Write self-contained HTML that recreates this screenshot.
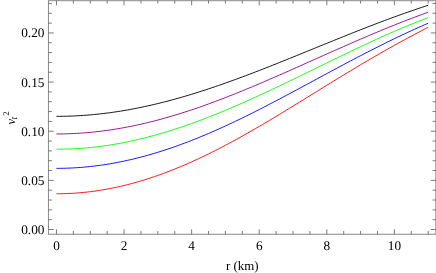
<!DOCTYPE html>
<html><head><meta charset="utf-8"><title>plot</title>
<style>html,body{margin:0;padding:0;background:#fff;}body{width:436px;height:273px;overflow:hidden;font-family:"Liberation Serif",serif;}svg{display:block;will-change:transform;}</style>
</head><body>
<svg width="436" height="273" viewBox="0 0 436 273">
<rect x="0" y="0" width="436" height="273" fill="#ffffff"/>
<rect x="48.44" y="0.7" width="387.36" height="233.56" fill="none" stroke="#888888" stroke-width="1"/>
<path d="M56.48,234.26v-5M56.48,0.7v4.6M73.38,234.26v-3.3M73.38,0.7v2.9M90.27,234.26v-3.3M90.27,0.7v2.9M107.16,234.26v-3.3M107.16,0.7v2.9M124.06,234.26v-5M124.06,0.7v4.6M140.95,234.26v-3.3M140.95,0.7v2.9M157.85,234.26v-3.3M157.85,0.7v2.9M174.75,234.26v-3.3M174.75,0.7v2.9M191.64,234.26v-5M191.64,0.7v4.6M208.53,234.26v-3.3M208.53,0.7v2.9M225.43,234.26v-3.3M225.43,0.7v2.9M242.32,234.26v-3.3M242.32,0.7v2.9M259.22,234.26v-5M259.22,0.7v4.6M276.12,234.26v-3.3M276.12,0.7v2.9M293.01,234.26v-3.3M293.01,0.7v2.9M309.90,234.26v-3.3M309.90,0.7v2.9M326.80,234.26v-5M326.80,0.7v4.6M343.69,234.26v-3.3M343.69,0.7v2.9M360.59,234.26v-3.3M360.59,0.7v2.9M377.49,234.26v-3.3M377.49,0.7v2.9M394.38,234.26v-5M394.38,0.7v4.6M411.28,234.26v-3.3M411.28,0.7v2.9M428.17,234.26v-3.3M428.17,0.7v2.9M48.44,229.50h5.3M435.8,229.50h-5.0M48.44,219.67h3.5M435.8,219.67h-3.2M48.44,209.84h3.5M435.8,209.84h-3.2M48.44,200.02h3.5M435.8,200.02h-3.2M48.44,190.19h3.5M435.8,190.19h-3.2M48.44,180.36h5.3M435.8,180.36h-5.0M48.44,170.53h3.5M435.8,170.53h-3.2M48.44,160.70h3.5M435.8,160.70h-3.2M48.44,150.88h3.5M435.8,150.88h-3.2M48.44,141.05h3.5M435.8,141.05h-3.2M48.44,131.22h5.3M435.8,131.22h-5.0M48.44,121.39h3.5M435.8,121.39h-3.2M48.44,111.56h3.5M435.8,111.56h-3.2M48.44,101.74h3.5M435.8,101.74h-3.2M48.44,91.91h3.5M435.8,91.91h-3.2M48.44,82.08h5.3M435.8,82.08h-5.0M48.44,72.25h3.5M435.8,72.25h-3.2M48.44,62.42h3.5M435.8,62.42h-3.2M48.44,52.60h3.5M435.8,52.60h-3.2M48.44,42.77h3.5M435.8,42.77h-3.2M48.44,32.94h5.3M435.8,32.94h-5.0M48.44,23.11h3.5M435.8,23.11h-3.2M48.44,13.28h3.5M435.8,13.28h-3.2M48.44,3.46h3.5M435.8,3.46h-3.2" fill="none" stroke="#5a5a5a" stroke-width="0.8"/>
<path d="M56.48,193.77 L59.86,193.75 L63.24,193.69 L66.62,193.58 L70.00,193.44 L73.38,193.25 L76.75,193.02 L80.13,192.75 L83.51,192.43 L86.89,192.08 L90.27,191.68 L93.65,191.25 L97.03,190.77 L100.41,190.25 L103.79,189.69 L107.16,189.09 L110.54,188.45 L113.92,187.77 L117.30,187.05 L120.68,186.29 L124.06,185.50 L127.44,184.66 L130.82,183.78 L134.20,182.87 L137.58,181.92 L140.95,180.93 L144.33,179.90 L147.71,178.84 L151.09,177.74 L154.47,176.60 L157.85,175.43 L161.23,174.22 L164.61,172.98 L167.99,171.70 L171.37,170.39 L174.75,169.05 L178.12,167.67 L181.50,166.26 L184.88,164.82 L188.26,163.35 L191.64,161.85 L195.02,160.32 L198.40,158.76 L201.78,157.17 L205.16,155.55 L208.53,153.90 L211.91,152.23 L215.29,150.53 L218.67,148.81 L222.05,147.06 L225.43,145.29 L228.81,143.50 L232.19,141.68 L235.57,139.84 L238.95,137.99 L242.32,136.11 L245.70,134.21 L249.08,132.29 L252.46,130.36 L255.84,128.41 L259.22,126.45 L262.60,124.47 L265.98,122.47 L269.36,120.47 L272.74,118.45 L276.12,116.42 L279.49,114.38 L282.87,112.33 L286.25,110.27 L289.63,108.21 L293.01,106.13 L296.39,104.06 L299.77,101.98 L303.15,99.89 L306.53,97.80 L309.90,95.71 L313.28,93.62 L316.66,91.53 L320.04,89.44 L323.42,87.36 L326.80,85.27 L330.18,83.19 L333.56,81.11 L336.94,79.04 L340.32,76.98 L343.69,74.92 L347.07,72.87 L350.45,70.83 L353.83,68.79 L357.21,66.77 L360.59,64.76 L363.97,62.76 L367.35,60.77 L370.73,58.79 L374.11,56.82 L377.49,54.87 L380.86,52.94 L384.24,51.01 L387.62,49.10 L391.00,47.21 L394.38,45.32 L397.76,43.46 L401.14,41.61 L404.52,39.77 L407.90,37.95 L411.28,36.14 L414.65,34.34 L418.03,32.56 L421.41,30.79 L424.79,29.03 L428.17,27.28" fill="none" stroke="#ff0000" stroke-width="0.9" stroke-linejoin="round"/>
<path d="M56.48,168.36 L59.86,168.34 L63.24,168.29 L66.62,168.20 L70.00,168.07 L73.38,167.90 L76.75,167.70 L80.13,167.46 L83.51,167.19 L86.89,166.88 L90.27,166.53 L93.65,166.14 L97.03,165.73 L100.41,165.27 L103.79,164.78 L107.16,164.25 L110.54,163.69 L113.92,163.10 L117.30,162.46 L120.68,161.80 L124.06,161.10 L127.44,160.36 L130.82,159.60 L134.20,158.80 L137.58,157.96 L140.95,157.09 L144.33,156.19 L147.71,155.26 L151.09,154.30 L154.47,153.30 L157.85,152.28 L161.23,151.22 L164.61,150.13 L167.99,149.02 L171.37,147.87 L174.75,146.70 L178.12,145.49 L181.50,144.26 L184.88,143.00 L188.26,141.72 L191.64,140.41 L195.02,139.07 L198.40,137.70 L201.78,136.32 L205.16,134.90 L208.53,133.47 L211.91,132.01 L215.29,130.53 L218.67,129.02 L222.05,127.50 L225.43,125.95 L228.81,124.39 L232.19,122.81 L235.57,121.20 L238.95,119.58 L242.32,117.95 L245.70,116.29 L249.08,114.62 L252.46,112.94 L255.84,111.24 L259.22,109.52 L262.60,107.80 L265.98,106.06 L269.36,104.31 L272.74,102.55 L276.12,100.78 L279.49,99.00 L282.87,97.22 L286.25,95.42 L289.63,93.62 L293.01,91.82 L296.39,90.00 L299.77,88.19 L303.15,86.37 L306.53,84.55 L309.90,82.72 L313.28,80.90 L316.66,79.07 L320.04,77.24 L323.42,75.42 L326.80,73.60 L330.18,71.78 L333.56,69.96 L336.94,68.15 L340.32,66.35 L343.69,64.55 L347.07,62.75 L350.45,60.97 L353.83,59.19 L357.21,57.42 L360.59,55.66 L363.97,53.91 L367.35,52.17 L370.73,50.44 L374.11,48.72 L377.49,47.02 L380.86,45.33 L384.24,43.65 L387.62,41.99 L391.00,40.34 L394.38,38.70 L397.76,37.08 L401.14,35.48 L404.52,33.89 L407.90,32.32 L411.28,30.76 L414.65,29.22 L418.03,27.70 L421.41,26.19 L424.79,24.70 L428.17,23.23" fill="none" stroke="#0000ff" stroke-width="0.9" stroke-linejoin="round"/>
<path d="M56.48,149.26 L59.86,149.24 L63.24,149.19 L66.62,149.10 L70.00,148.98 L73.38,148.83 L76.75,148.64 L80.13,148.42 L83.51,148.16 L86.89,147.87 L90.27,147.55 L93.65,147.19 L97.03,146.80 L100.41,146.38 L103.79,145.93 L107.16,145.44 L110.54,144.92 L113.92,144.36 L117.30,143.78 L120.68,143.16 L124.06,142.51 L127.44,141.83 L130.82,141.12 L134.20,140.38 L137.58,139.61 L140.95,138.81 L144.33,137.98 L147.71,137.12 L151.09,136.23 L154.47,135.31 L157.85,134.37 L161.23,133.40 L164.61,132.40 L167.99,131.37 L171.37,130.32 L174.75,129.24 L178.12,128.14 L181.50,127.01 L184.88,125.86 L188.26,124.68 L191.64,123.48 L195.02,122.26 L198.40,121.01 L201.78,119.75 L205.16,118.46 L208.53,117.15 L211.91,115.82 L215.29,114.47 L218.67,113.10 L222.05,111.72 L225.43,110.32 L228.81,108.89 L232.19,107.46 L235.57,106.00 L238.95,104.53 L242.32,103.05 L245.70,101.55 L249.08,100.04 L252.46,98.52 L255.84,96.98 L259.22,95.43 L262.60,93.87 L265.98,92.30 L269.36,90.72 L272.74,89.13 L276.12,87.53 L279.49,85.92 L282.87,84.31 L286.25,82.69 L289.63,81.06 L293.01,79.43 L296.39,77.79 L299.77,76.15 L303.15,74.50 L306.53,72.85 L309.90,71.20 L313.28,69.55 L316.66,67.90 L320.04,66.25 L323.42,64.60 L326.80,62.95 L330.18,61.30 L333.56,59.65 L336.94,58.01 L340.32,56.37 L343.69,54.74 L347.07,53.11 L350.45,51.49 L353.83,49.87 L357.21,48.26 L360.59,46.66 L363.97,45.07 L367.35,43.49 L370.73,41.92 L374.11,40.37 L377.49,38.82 L380.86,37.29 L384.24,35.77 L387.62,34.26 L391.00,32.77 L394.38,31.30 L397.76,29.85 L401.14,28.41 L404.52,26.99 L407.90,25.60 L411.28,24.22 L414.65,22.87 L418.03,21.54 L421.41,20.23 L424.79,18.95 L428.17,17.69" fill="none" stroke="#00ff00" stroke-width="0.9" stroke-linejoin="round"/>
<path d="M56.48,133.97 L59.86,133.95 L63.24,133.91 L66.62,133.83 L70.00,133.71 L73.38,133.57 L76.75,133.39 L80.13,133.18 L83.51,132.94 L86.89,132.67 L90.27,132.37 L93.65,132.04 L97.03,131.67 L100.41,131.27 L103.79,130.85 L107.16,130.39 L110.54,129.90 L113.92,129.38 L117.30,128.83 L120.68,128.25 L124.06,127.65 L127.44,127.01 L130.82,126.34 L134.20,125.65 L137.58,124.93 L140.95,124.18 L144.33,123.40 L147.71,122.59 L151.09,121.76 L154.47,120.90 L157.85,120.02 L161.23,119.11 L164.61,118.17 L167.99,117.22 L171.37,116.23 L174.75,115.22 L178.12,114.19 L181.50,113.14 L184.88,112.06 L188.26,110.97 L191.64,109.85 L195.02,108.71 L198.40,107.54 L201.78,106.36 L205.16,105.16 L208.53,103.95 L211.91,102.71 L215.29,101.45 L218.67,100.18 L222.05,98.89 L225.43,97.59 L228.81,96.27 L232.19,94.94 L235.57,93.59 L238.95,92.23 L242.32,90.85 L245.70,89.46 L249.08,88.06 L252.46,86.65 L255.84,85.23 L259.22,83.80 L262.60,82.36 L265.98,80.91 L269.36,79.45 L272.74,77.98 L276.12,76.51 L279.49,75.03 L282.87,73.55 L286.25,72.06 L289.63,70.56 L293.01,69.06 L296.39,67.56 L299.77,66.05 L303.15,64.55 L306.53,63.04 L309.90,61.53 L313.28,60.02 L316.66,58.51 L320.04,57.00 L323.42,55.49 L326.80,53.98 L330.18,52.48 L333.56,50.98 L336.94,49.48 L340.32,47.99 L343.69,46.50 L347.07,45.01 L350.45,43.53 L353.83,42.06 L357.21,40.60 L360.59,39.14 L363.97,37.69 L367.35,36.25 L370.73,34.81 L374.11,33.39 L377.49,31.98 L380.86,30.57 L384.24,29.18 L387.62,27.80 L391.00,26.42 L394.38,25.07 L397.76,23.72 L401.14,22.38 L404.52,21.06 L407.90,19.76 L411.28,18.46 L414.65,17.19 L418.03,15.92 L421.41,14.67 L424.79,13.44 L428.17,12.22" fill="none" stroke="#8c008c" stroke-width="0.9" stroke-linejoin="round"/>
<path d="M56.48,116.34 L59.86,116.33 L63.24,116.28 L66.62,116.21 L70.00,116.11 L73.38,115.97 L76.75,115.81 L80.13,115.62 L83.51,115.40 L86.89,115.15 L90.27,114.88 L93.65,114.57 L97.03,114.23 L100.41,113.87 L103.79,113.48 L107.16,113.06 L110.54,112.61 L113.92,112.14 L117.30,111.63 L120.68,111.10 L124.06,110.55 L127.44,109.97 L130.82,109.36 L134.20,108.72 L137.58,108.06 L140.95,107.37 L144.33,106.66 L147.71,105.92 L151.09,105.16 L154.47,104.38 L157.85,103.57 L161.23,102.74 L164.61,101.88 L167.99,101.01 L171.37,100.11 L174.75,99.19 L178.12,98.24 L181.50,97.28 L184.88,96.30 L188.26,95.29 L191.64,94.27 L195.02,93.23 L198.40,92.17 L201.78,91.09 L205.16,90.00 L208.53,88.88 L211.91,87.76 L215.29,86.61 L218.67,85.45 L222.05,84.27 L225.43,83.08 L228.81,81.88 L232.19,80.66 L235.57,79.43 L238.95,78.19 L242.32,76.93 L245.70,75.67 L249.08,74.39 L252.46,73.11 L255.84,71.81 L259.22,70.50 L262.60,69.19 L265.98,67.87 L269.36,66.54 L272.74,65.20 L276.12,63.86 L279.49,62.51 L282.87,61.15 L286.25,59.79 L289.63,58.43 L293.01,57.06 L296.39,55.69 L299.77,54.32 L303.15,52.95 L306.53,51.57 L309.90,50.19 L313.28,48.82 L316.66,47.44 L320.04,46.06 L323.42,44.68 L326.80,43.31 L330.18,41.94 L333.56,40.57 L336.94,39.20 L340.32,37.84 L343.69,36.48 L347.07,35.12 L350.45,33.77 L353.83,32.43 L357.21,31.09 L360.59,29.76 L363.97,28.44 L367.35,27.12 L370.73,25.81 L374.11,24.51 L377.49,23.22 L380.86,21.94 L384.24,20.67 L387.62,19.41 L391.00,18.16 L394.38,16.93 L397.76,15.70 L401.14,14.49 L404.52,13.29 L407.90,12.10 L411.28,10.93 L414.65,9.77 L418.03,8.63 L421.41,7.50 L424.79,6.39 L428.17,5.30" fill="none" stroke="#000000" stroke-width="0.9" stroke-linejoin="round"/>
<g font-family="'Liberation Serif', serif" font-size="13.25" fill="#000" text-rendering="geometricPrecision"><text x="56.5" y="250.2" text-anchor="middle">0</text><text x="124.1" y="250.2" text-anchor="middle">2</text><text x="191.6" y="250.2" text-anchor="middle">4</text><text x="259.2" y="250.2" text-anchor="middle">6</text><text x="326.8" y="250.2" text-anchor="middle">8</text><text x="394.4" y="250.2" text-anchor="middle">10</text><text x="44.4" y="233.9" text-anchor="end">0.00</text><text x="44.4" y="184.8" text-anchor="end">0.05</text><text x="44.4" y="135.6" text-anchor="end">0.10</text><text x="44.4" y="86.5" text-anchor="end">0.15</text><text x="44.4" y="37.3" text-anchor="end">0.20</text><text x="242.2" y="270.2" text-anchor="middle" font-size="12.9">r (km)</text><text transform="translate(14.5,124.4) rotate(-90)" font-style="italic" font-size="12.6">v</text><text transform="translate(17.3,119.5) rotate(-90)" font-style="italic" font-size="9.5">t</text><text transform="translate(9.2,115.65) rotate(-90)" font-size="8.8">2</text></g>
</svg>
</body></html>
